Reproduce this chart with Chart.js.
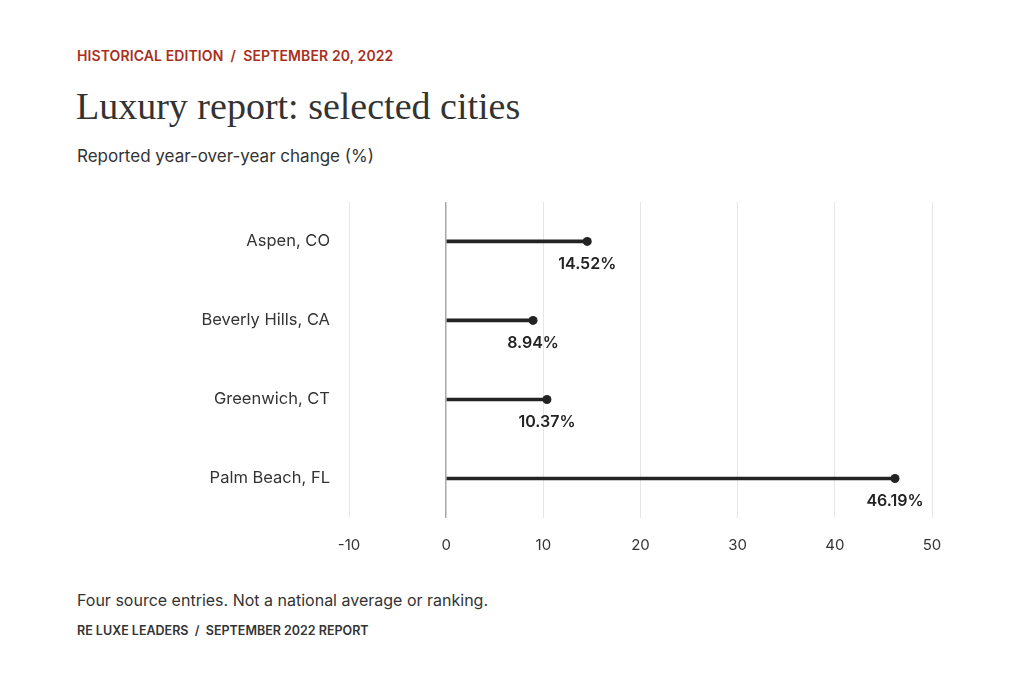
<!DOCTYPE html>
<html>
<head>
<meta charset="utf-8">
<script src="https://cdn.jsdelivr.net/npm/chart.js@4"></script>
<style>
  html, body { margin: 0; padding: 0; background: #fff; }
  body { width: 1024px; height: 683px; position: relative; overflow: hidden; font-family: Inter, "Open Sans", sans-serif; color: #2a2a2a; }
  .kicker { position: absolute; left: 77px; top: 47px; font-size: 14px; font-weight: 600; color: #a8301c; letter-spacing: 0.1px; }
  .title  { position: absolute; left: 76px; top: 84px; font-family: "Liberation Serif", "DejaVu Serif", serif; font-size: 38px; color: #333; }
  .sub    { position: absolute; left: 77px; top: 146px; font-size: 17px; color: #333; }
  .note   { position: absolute; left: 77px; top: 590px; font-size: 16px; color: #333; }
  .credit { position: absolute; left: 77px; top: 623px; font-size: 12.5px; font-weight: 600; color: #333; }
  #wrap   { position: absolute; left: 0; top: 181px; width: 1024px; height: 389px; }
</style>
</head>
<body>
<div class="kicker">HISTORICAL EDITION&nbsp; /&nbsp; SEPTEMBER 20, 2022</div>
<div class="title">Luxury report: selected cities</div>
<div class="sub">Reported year-over-year change (%)</div>
<div id="wrap"><canvas id="chart"></canvas></div>
<div class="note">Four source entries. Not a national average or ranking.</div>
<div class="credit">RE LUXE LEADERS&nbsp; /&nbsp; SEPTEMBER 2022 REPORT</div>

<script>
// dados do gráfico
const cities  = ['Aspen, CO', 'Beverly Hills, CA', 'Greenwich, CT', 'Palm Beach, FL'];
const changes = [14.52, 8.94, 10.37, 46.19];
const xTicks  = [-10, 0, 10, 20, 30, 40, 50];

const INK = '#232323';

/** Rótulos de valor abaixo de cada ponto. */
const valueLabels = {
  id: 'valueLabels',
  afterDatasetsDraw(chart) {
    const { ctx } = chart;
    const meta = chart.getDatasetMeta(1);
    ctx.save();
    ctx.font = '600 16px Inter, sans-serif';
    ctx.fillStyle = INK;
    ctx.textAlign = 'center';
    ctx.textBaseline = 'middle';
    meta.data.forEach((pt, i) => {
      ctx.fillText(changes[i].toFixed(2) + '%', pt.x, pt.y + 23);
    });
    ctx.restore();
  },
};

new Chart(document.getElementById('chart'), {
  data: {
    labels: cities,
    datasets: [
      {
        type: 'bar',
        data: changes,
        backgroundColor: INK,
        barThickness: 3,
        borderWidth: 0,
      },
      {
        type: 'line',
        data: changes,
        showLine: false,
        pointRadius: 4.5,
        pointBackgroundColor: INK,
        pointBorderWidth: 0,
      },
    ],
  },
  options: {
    indexAxis: 'y',
    responsive: true,
    maintainAspectRatio: false,
    animation: false,
    layout: { padding: { top: 8, right: 92, bottom: 0, left: 0 } },
    plugins: { legend: { display: false }, tooltip: { enabled: false } },
    scales: {
      x: {
        min: -10,
        max: 50,
        afterBuildTicks: s => { s.ticks = xTicks.map(v => ({ value: v })); },
        afterFit: s => { s.height = 52; },
        grid: {
          color: c => (c.tick && c.tick.value === 0 ? '#a8a8a8' : '#e6e6e6'),
          lineWidth: c => (c.tick && c.tick.value === 0 ? 1.5 : 1),
          drawTicks: false,
        },
        border: { display: false },
        ticks: {
          padding: 18,
          color: '#333',
          font: { family: 'Inter, sans-serif', size: 15 },
        },
      },
      y: {
        afterFit: s => { s.width = 349; },
        grid: { display: false },
        border: { display: false },
        ticks: {
          padding: 11,
          color: '#333',
          font: { family: 'Inter, sans-serif', size: 16.5 },
        },
      },
    },
  },
  plugins: [valueLabels],
});
</script>
</body>
</html>
